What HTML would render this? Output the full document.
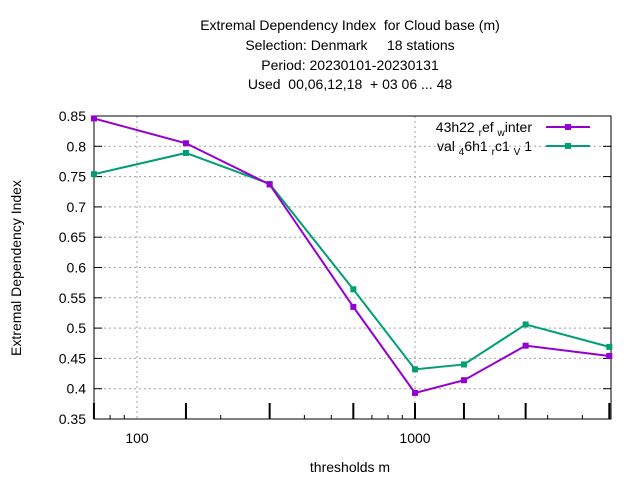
<!DOCTYPE html>
<html><head><meta charset="utf-8"><style>
body{margin:0;background:#fff}
svg{font-family:"Liberation Sans",sans-serif;}
text{white-space:pre}
</style></head><body>
<svg id="chart" width="640" height="480" viewBox="0 0 640 480" xmlns="http://www.w3.org/2000/svg" xml:space="preserve">
<g font-size="14" text-anchor="middle" fill="#000">
<text x="350" y="30">Extremal Dependency Index  for Cloud base (m)</text>
<text x="350" y="50">Selection: Denmark     18 stations</text>
<text x="350" y="70">Period: 20230101-20230131</text>
<text x="350" y="89">Used  00,06,12,18  + 03 06 ... 48</text>
</g>
<g id="grid"></g>
<g id="axes"></g>
<g id="series"></g>
<text transform="translate(21,268) rotate(-90)" font-size="14" text-anchor="middle">Extremal Dependency Index</text>
<text x="350" y="472" font-size="14" text-anchor="middle">thresholds m</text>
<g font-size="14" text-anchor="end">
<g>
<text x="532" y="132">43h22 <tspan font-size="10" dy="4">r</tspan><tspan dy="-4">ef </tspan><tspan font-size="10" dy="4">w</tspan><tspan dy="-4">inter</tspan></text>
<line x1="546" y1="127" x2="590" y2="127" stroke="#9400d3" stroke-width="2"/>
<rect x="565" y="124" width="6" height="6" fill="#9400d3"/>
</g>
<g>
<text x="532" y="151">val <tspan font-size="10" dy="4">4</tspan><tspan dy="-4">6h1 </tspan><tspan font-size="10" dy="4">r</tspan><tspan dy="-4">c1 </tspan><tspan font-size="10" dy="4">V</tspan><tspan dy="-4"> 1</tspan></text>
<line x1="546" y1="146" x2="590" y2="146" stroke="#009e73" stroke-width="2"/>
<rect x="565" y="143" width="6" height="6" fill="#009e73"/>
</g>
</g>
</svg>
<script>
const thresholds=[70,150,300,600,1000,1500,2500,5000];
const refWinter=[0.846,0.805,0.737,0.535,0.393,0.414,0.471,0.454];
const valSeries=[0.754,0.789,0.738,0.564,0.432,0.440,0.506,0.469];
const yTicks=[0.35,0.4,0.45,0.5,0.55,0.6,0.65,0.7,0.75,0.8,0.85];
const xLabelTicks=[100,1000];
const xMinor=[80,90,200,300,400,500,600,700,800,900,2000,3000,4000,5000];

const L=94,R=611,T=116,B=419;
const px1=137,pxDecade=278;
function xs(v){return px1+(Math.log10(v)-2)*pxDecade;}
function ys(v){return B-(v-0.35)/(0.85-0.35)*(B-T);}
const NS="http://www.w3.org/2000/svg";
function mk(tag,attrs,parent){const e=document.createElementNS(NS,tag);for(const k in attrs)e.setAttribute(k,attrs[k]);parent.appendChild(e);return e;}
const grid=document.getElementById('grid'),axes=document.getElementById('axes'),series=document.getElementById('series');
yTicks.forEach(t=>{
  const y=ys(t);
  if(t>0.351&&t<0.849){const g=mk('line',{x1:L,x2:R,y1:y,y2:y,stroke:'#a0a0a0','stroke-dasharray':'2,3'},grid);
  
  }
  mk('line',{x1:L,x2:L+8,y1:y,y2:y,stroke:'#000'},axes);
  mk('line',{x1:R,x2:R-8,y1:y,y2:y,stroke:'#000'},axes);
  const tx=mk('text',{x:L-8,y:y+5,'font-size':14,'text-anchor':'end'},axes);
  tx.textContent=String(t);
  
  
});
xLabelTicks.forEach(t=>{
  const x=xs(t);
  const g=mk('line',{x1:x,x2:x,y1:T,y2:B,stroke:'#a0a0a0','stroke-dasharray':'2,3'},grid);
  
  
  const tx=mk('text',{x:x,y:443,'font-size':14,'text-anchor':'middle'},axes);
  tx.textContent=String(t);
  
  
});
xMinor.forEach(t=>{const x=xs(t);mk('line',{x1:x,x2:x,y1:B,y2:B-4,stroke:'#000'},axes);});
thresholds.forEach(t=>{const x=xs(t);mk('line',{x1:x,x2:x,y1:B,y2:B-16,stroke:'#000','stroke-width':2},axes);});
const fr=mk('rect',{x:L,y:T,width:R-L,height:B-T,fill:'none',stroke:'#000'},axes);


function drawSeries(vals,color,name){
  const g=mk('g',{},series);
  
  
  mk('polyline',{points:vals.map((v,i)=>xs(thresholds[i])+','+ys(v)).join(' '),fill:'none',stroke:color,'stroke-width':2},g);
  vals.forEach((v,i)=>{
    const p=mk('rect',{x:xs(thresholds[i])-3,y:ys(v)-3,width:6,height:6,fill:color},g);
    
    
  });
}
drawSeries(valSeries,'#009e73','series-val');
drawSeries(refWinter,'#9400d3','series-ref-winter');
</script>
</body></html>
